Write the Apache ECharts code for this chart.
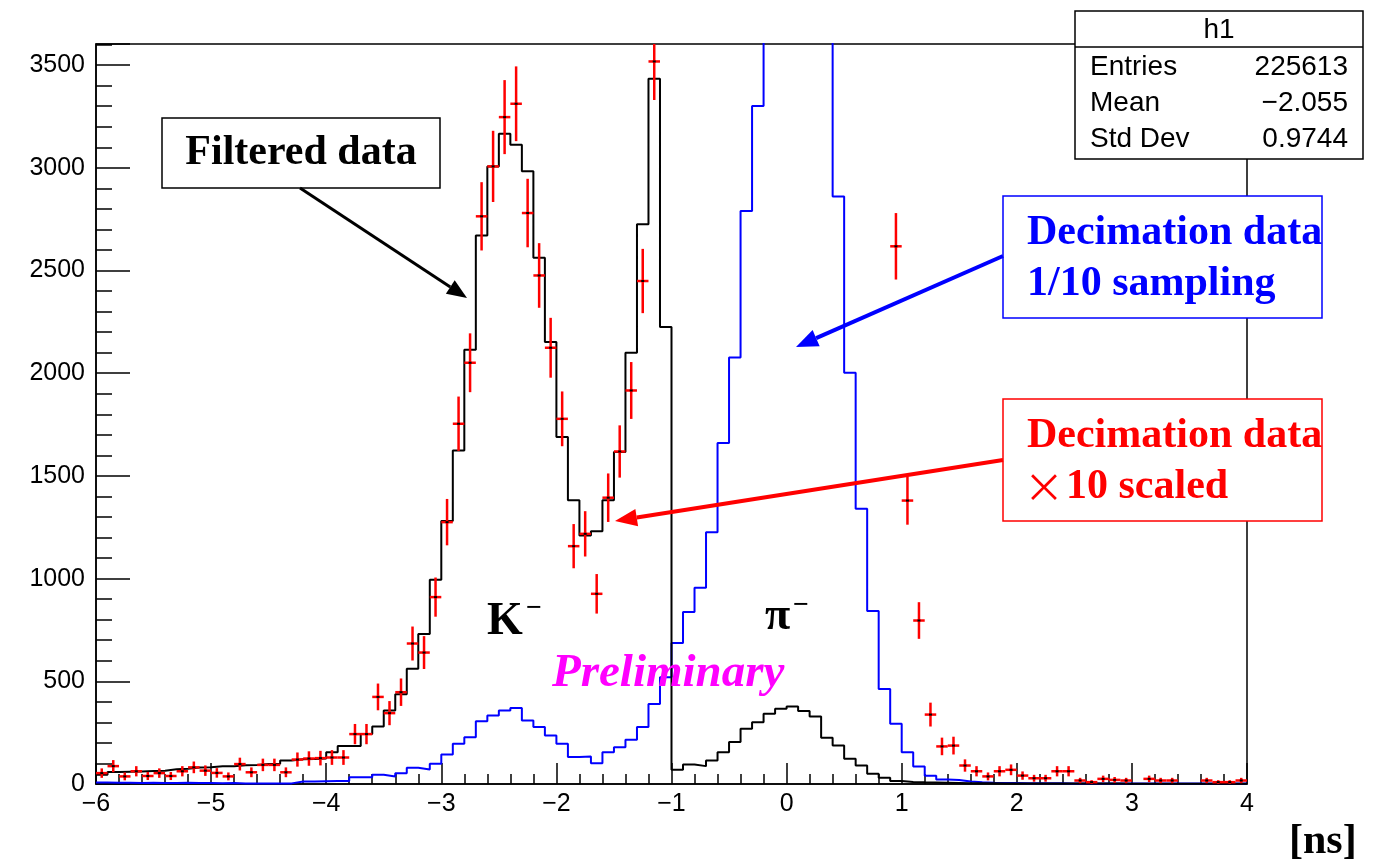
<html>
<head>
<meta charset="utf-8">
<script src="https://cdn.jsdelivr.net/npm/echarts@6/dist/echarts.min.js"></script>
</head>
<body style="margin: 0">
<div id="container" style="width: 1389px; height: 866px"></div>
<script>
// histogram binning: 100 bins of 0.1 ns from -6 to 4
var binLow = -6;
var binWidth = 0.1;

// filtered data (black histogram)
var filtered = [
  45, 58, 60, 61, 63, 64, 72, 74, 80, 82,
  86, 87, 91, 93, 97, 99, 114, 121, 122, 124,
  155, 185, 185, 244, 280, 358, 437, 561, 730, 994,
  1280, 1624, 2114, 2671, 3007, 3166, 3113, 2983, 2562, 2152,
  1689, 1381, 1210, 1231, 1381, 1616, 2100, 2725, 3434, 2225,
  69, 95, 87, 114, 155, 204, 269, 301, 342, 366,
  377, 355, 329, 225, 187, 123, 90, 50, 30, 15,
  10, 8, 7, 6, 5, 4, 4, 4, 3, 3,
  3, 3, 3, 2, 2, 2, 2, 2, 2, 1,
  1, 1, 1, 1, 1, 1, 1, 1, 1, 1
];

// decimation data, 1/10 sampling (blue histogram)
var decimSampled = [
  7, 6, 6, 5, 6, 5, 5, 6, 5, 5,
  4, 5, 3, 3, 2, 3, 3, 12, 12, 13,
  14, 14, 33, 33, 45, 37, 52, 79, 71, 99,
  144, 196, 228, 306, 334, 358, 370, 309, 277, 236,
  196, 131, 134, 101, 155, 179, 215, 277, 390, 520,
  686, 837, 955, 1226, 1660, 2076, 2790, 3301, 3900, 4400,
  4650, 4500, 4150, 3700, 2861, 2002, 1340, 842, 463, 293,
  155, 85, 40, 22, 20, 12, 8, 6, 5, 5,
  4, 4, 4, 4, 3, 3, 3, 3, 3, 2,
  2, 2, 2, 2, 2, 2, 2, 2, 2, 2
];

// decimation data x10 scaled (red points), null = off scale
var decimScaled = [
  53, 87, 37, 62, 39, 53, 39, 62, 81, 65,
  54, 37, 97, 57, 93, 93, 57, 119, 124, 126,
  129, 129, 243, 243, 424, 345, 447, 684, 640, 910,
  1275, 1754, 2051, 2764, 3007, 3247, 3312, 2780, 2476, 2124,
  1778, 1158, 1218, 926, 1394, 1619, 1916, 2449, 3518, null,
  null, null, null, null, null, null, null, null, null, null,
  null, null, null, null, null, null, null, null, null, 2618,
  1380, 796, 338, 183, 187, 90, 62, 37, 62, 69,
  41, 28, 28, 62, 62, 17, 9, 25, 20, 17,
  null, 25, 17, 17, null, null, 17, 9, 9, 17
];
var scaleFactor = 10;

var statNames = ['Entries', 'Mean', 'Std Dev'];
var statValues = ['225613', '\u22122.055', '0.9744'];

function histLine(values) {
  var pts = values.map(function (v, i) {
    return [+(binLow + i * binWidth).toFixed(2), v];
  });
  pts.push([+(binLow + values.length * binWidth).toFixed(2), values[values.length - 1]]);
  return pts;
}

var crossData = [];
decimScaled.forEach(function (v, i) {
  if (v === null) return;
  var center = +(binLow + (i + 0.5) * binWidth).toFixed(3);
  crossData.push([center, v, Math.sqrt(v * scaleFactor)]);
});

function renderCross(params, api) {
  var x = api.value(0), v = api.value(1), e = api.value(2);
  var cs = params.coordSys;
  var c = api.coord([x, v]);
  var l = api.coord([x - binWidth / 2, v]);
  var r = api.coord([x + binWidth / 2, v]);
  var t = api.coord([x, v + e]);
  var b = api.coord([x, v - e]);
  var top = Math.max(t[1], cs.y);
  var bot = Math.min(b[1], cs.y + cs.height);
  return {
    type: 'group',
    children: [
      { type: 'line', shape: { x1: l[0], y1: c[1], x2: r[0], y2: c[1] }, style: { stroke: '#ff0000', lineWidth: 2.5 } },
      { type: 'line', shape: { x1: c[0], y1: top, x2: c[0], y2: bot }, style: { stroke: '#ff0000', lineWidth: 2.5 } },
      { type: 'rect', shape: { x: c[0] - 1.5, y: c[1] - 1, width: 3, height: 2 }, style: { fill: '#000' } }
    ]
  };
}

function arrow(x1, y1, x2, y2, color, w, head) {
  var ang = Math.atan2(y2 - y1, x2 - x1);
  var bx = x2 - head * Math.cos(ang), by = y2 - head * Math.sin(ang);
  var px = Math.sin(ang) * head * 0.4, py = -Math.cos(ang) * head * 0.4;
  return [
    { type: 'line', z: 100, shape: { x1: x1, y1: y1, x2: bx, y2: by }, style: { stroke: color, lineWidth: w } },
    { type: 'polygon', z: 100, shape: { points: [[x2, y2], [bx + px, by + py], [bx - px, by - py]] }, style: { fill: color } }
  ];
}

var serif = '"Liberation Serif", "Times New Roman", serif';
var sans = '"Liberation Sans", Arial, sans-serif';
var cjk = '"Noto Sans CJK JP", sans-serif';

function label(x, y, text, font, color, align) {
  return { type: 'text', z: 101, x: x, y: y, style: { text: text, font: font, fill: color, textAlign: align || 'left', textVerticalAlign: 'middle' } };
}

var graphics = [
  // Filtered data label
  { type: 'rect', z: 100, shape: { x: 162, y: 118, width: 278, height: 70 }, style: { fill: '#fff', stroke: '#000', lineWidth: 1.5 } },
  label(301, 153, 'Filtered data', 'bold 42px ' + serif, '#000', 'center'),
  // blue label
  { type: 'rect', z: 100, shape: { x: 1003, y: 196, width: 319, height: 122 }, style: { fill: '#fff', stroke: '#0000ff', lineWidth: 1.5 } },
  label(1027, 233, 'Decimation data', 'bold 42px ' + serif, '#0000ff'),
  label(1027, 284, '1/10 sampling', 'bold 42px ' + serif, '#0000ff'),
  // red label
  { type: 'rect', z: 100, shape: { x: 1003, y: 399, width: 319, height: 122 }, style: { fill: '#fff', stroke: '#ff0000', lineWidth: 1.5 } },
  label(1027, 436, 'Decimation data', 'bold 42px ' + serif, '#ff0000'),
  label(1024, 487, '\u00d7', '40px ' + cjk, '#ff0000'),
  label(1066, 487, '10 scaled', 'bold 42px ' + serif, '#ff0000'),
  // particle labels
  label(487, 622, 'K', 'bold 46px ' + serif, '#000'),
  label(526, 609, '\u2212', 'bold 28px ' + serif, '#000'),
  label(765, 617, '\u03c0', 'bold 46px ' + serif, '#000'),
  label(793, 606, '\u2212', 'bold 28px ' + serif, '#000'),
  label(552, 674, 'Preliminary', 'italic bold 47px ' + serif, '#ff00ff'),
  // axis unit
  label(1289, 842, '[ns]', 'bold 42px ' + serif, '#000'),
  // stats box
  { type: 'rect', z: 100, shape: { x: 1075, y: 11, width: 288, height: 148 }, style: { fill: '#fff', stroke: '#000', lineWidth: 1.5 } },
  { type: 'line', z: 101, shape: { x1: 1075, y1: 47, x2: 1363, y2: 47 }, style: { stroke: '#000', lineWidth: 1.5 } },
  label(1219, 30, 'h1', '28px ' + sans, '#000', 'center')
];
statNames.forEach(function (name, i) {
  var y = 67 + i * 36;
  graphics.push(label(1090, y, name, '28px ' + sans, '#000'));
  graphics.push(label(1348, y, statValues[i], '28px ' + sans, '#000', 'right'));
});
graphics = graphics.concat(
  arrow(300, 188, 467, 298, '#000', 3, 20),
  arrow(1003, 256, 796, 347, '#0000ff', 4, 22),
  arrow(1003, 460, 615, 521, '#ff0000', 4, 22)
);

var dom = document.getElementById('container');
var myChart = echarts.init(dom);

var option = {
  animation: false,
  backgroundColor: '#fff',
  grid: {
    left: 96, right: 142, top: 44, bottom: 82,
    show: true, borderColor: '#000', borderWidth: 1.5
  },
  xAxis: {
    type: 'value', min: -6, max: 4, interval: 1,
    axisLine: { show: true, onZero: false, lineStyle: { color: '#000', width: 1.5 } },
    axisTick: { show: true, inside: true, length: 21, lineStyle: { color: '#000', width: 1.5 } },
    minorTick: { show: true, splitNumber: 5, length: 10, lineStyle: { color: '#000', width: 1.5 } },
    splitLine: { show: false },
    axisLabel: {
      color: '#000', fontSize: 25, fontFamily: sans, margin: 8,
      formatter: function (v) { return v < 0 ? '\u2212' + Math.abs(v) : '' + v; }
    }
  },
  yAxis: {
    type: 'value', min: 0, max: 3603, interval: 500,
    axisLine: { show: true, onZero: false, lineStyle: { color: '#000', width: 1.5 } },
    axisTick: { show: true, inside: true, length: 34, lineStyle: { color: '#000', width: 1.5 } },
    minorTick: { show: true, splitNumber: 5, length: 16, lineStyle: { color: '#000', width: 1.5 } },
    splitLine: { show: false },
    axisLabel: {
      color: '#000', fontSize: 25, fontFamily: sans, margin: 11, showMaxLabel: false,
      formatter: function (v) { return '' + v; }
    }
  },
  series: [
    {
      type: 'line', step: 'end', data: histLine(decimSampled), showSymbol: false, clip: true,
      lineStyle: { color: '#0000ff', width: 2 }, z: 3
    },
    {
      type: 'line', step: 'end', data: histLine(filtered), showSymbol: false, clip: true,
      lineStyle: { color: '#000', width: 2 }, z: 4
    },
    {
      type: 'custom', renderItem: renderCross, data: crossData, clip: true, z: 5,
      encode: { x: 0, y: 1 }
    }
  ],
  graphic: graphics
};

myChart.setOption(option);
</script>
</body>
</html>
